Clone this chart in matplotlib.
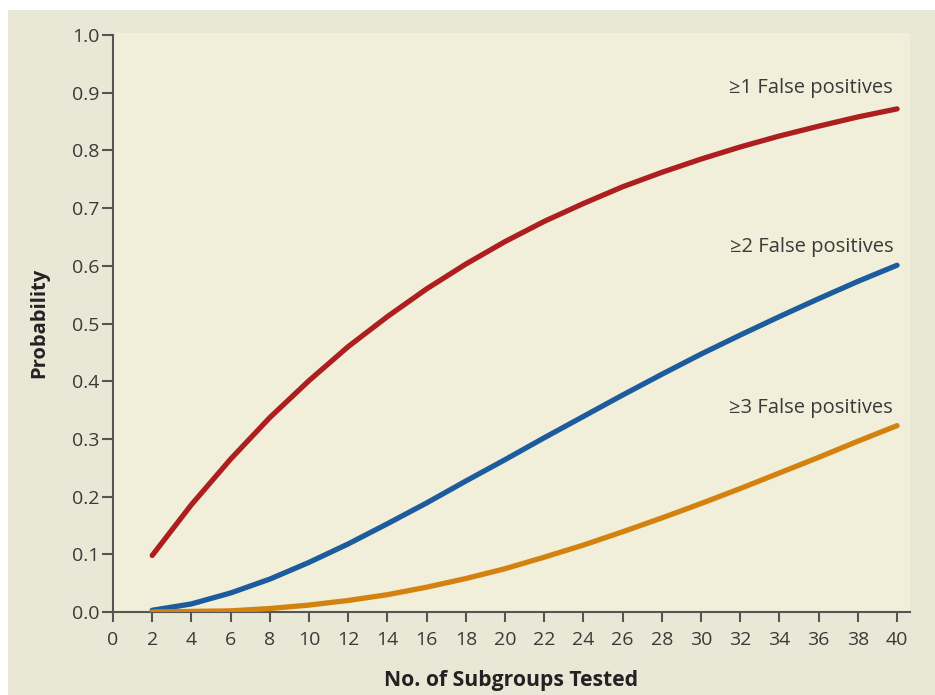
import matplotlib.pyplot as plt
from matplotlib.patches import Rectangle

# Number of subgroups tested (even values) and probability
subgroups = [2, 4, 6, 8, 10, 12, 14, 16, 18, 20, 22, 24, 26, 28, 30, 32, 34, 36, 38, 40]
p_ge1 = [0.098, 0.186, 0.265, 0.337, 0.401, 0.460, 0.512, 0.560, 0.603, 0.642,
         0.677, 0.708, 0.737, 0.762, 0.785, 0.806, 0.825, 0.842, 0.858, 0.872]
p_ge2 = [0.003, 0.014, 0.033, 0.057, 0.086, 0.118, 0.153, 0.189, 0.227, 0.264,
         0.302, 0.339, 0.376, 0.412, 0.447, 0.480, 0.512, 0.543, 0.573, 0.601]
p_ge3 = [0.000, 0.001, 0.002, 0.006, 0.012, 0.020, 0.030, 0.043, 0.058, 0.075,
         0.095, 0.116, 0.139, 0.163, 0.188, 0.214, 0.241, 0.268, 0.296, 0.323]
labels = ['\u22651 False positives', '\u22652 False positives', '\u22653 False positives']
label_y = [0.899, 0.624, 0.345]

colors = ['#ad1f1f', '#1c5b9c', '#d4820f']
frame_bg = '#e9e7d5'
plot_bg = '#f1efda'
text_col = '#3a3a3a'
font = ['Open Sans', 'DejaVu Sans']

fig = plt.figure(figsize=(9.35, 6.95), dpi=100, facecolor='white')
# beige frame behind everything
fig.patches.append(Rectangle((8 / 935, 0), 1, (695 - 10) / 695, transform=fig.transFigure,
                             facecolor=frame_bg, edgecolor='none', zorder=-10))

ax = fig.add_axes([113 / 935, (695 - 612) / 695, (910 - 113) / 935, (612 - 33) / 695])
ax.set_facecolor(plot_bg)

for ys, c in zip([p_ge1, p_ge2, p_ge3], colors):
    ax.plot(subgroups, ys, color=c, lw=3.8, solid_capstyle='round',
            solid_joinstyle='round', zorder=3)

for lab, y in zip(labels, label_y):
    ax.text(39.8, y, lab, ha='right', va='baseline', fontsize=14.5, color=text_col, family=font)

ax.set_xlim(0, 40.66)
ax.set_ylim(0, 1.0035)
ax.set_xticks(range(0, 41, 2))
ax.set_yticks([i / 10 for i in range(11)])
ax.set_yticklabels(['%.1f' % (i / 10) for i in range(11)])

for s in ['top', 'right']:
    ax.spines[s].set_visible(False)
for s in ['left', 'bottom']:
    ax.spines[s].set_color('#555555')
    ax.spines[s].set_linewidth(1.5)
ax.spines['left'].set_bounds(0, 1.0)

ax.tick_params(direction='out', width=1.5, color='#555555',
               labelsize=14, labelcolor=text_col)
ax.tick_params(axis='y', length=8, pad=2)
ax.tick_params(axis='x', length=7.5, pad=6)
for t in ax.get_xticklabels() + ax.get_yticklabels():
    t.set_family(font)

ax.set_xlabel('No. of Subgroups Tested', fontsize=15.2, fontweight='bold', color='#222222',
              family=font, labelpad=15)
ax.set_ylabel('Probability', fontsize=14.5, fontweight='bold', color='#222222',
              family=font, labelpad=16)

fig.savefig('out.png', dpi=100, facecolor=fig.get_facecolor())
